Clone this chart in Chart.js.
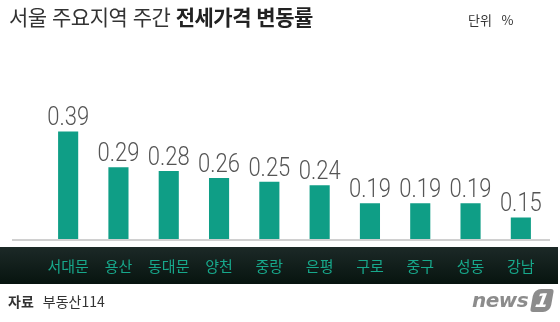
<!DOCTYPE html>
<html lang="ko">
<head>
<meta charset="utf-8">
<script src="https://cdn.jsdelivr.net/npm/chart.js@4/dist/chart.umd.min.js"></script>
<style>
  body { margin: 0; background: #fff; }
  #wrap { position: relative; width: 560px; height: 322px; overflow: hidden; font-family: "Noto Sans CJK KR", "Noto Sans", sans-serif; }
  #chart { position: absolute; left: 0; top: 0; }
  .title { position: absolute; left: 9px; top: 1px; font-size: 21px; color: #333; letter-spacing: -0.5px; }
  .title b { font-weight: 700; color: #222; }
  .unit { position: absolute; left: 468px; top: 10px; font-size: 13px; color: #333; word-spacing: 6px; }
  .source { position: absolute; left: 8px; top: 291px; font-size: 14px; color: #333; }
  .source b { font-weight: 700; margin-right: 9px; }
  .logo { position: absolute; left: 472px; top: 288px; font-family: "DejaVu Sans", sans-serif; font-size: 20px; font-weight: 700; font-style: italic; color: #8c8c8c; letter-spacing: -0.5px; }
  .logo span { display: inline-block; background: #8c8c8c; color: #fff; border-radius: 7px 3px 7px 3px; width: 20px; height: 23px; line-height: 23px; text-align: center; font-size: 19px; margin-left: 4px; transform: skewX(-10deg); }
</style>
</head>
<body>
<div id="wrap">
  <canvas id="chart" width="560" height="322"></canvas>
  <div class="title">서울 주요지역 주간 <b>전세가격 변동률</b></div>
  <div class="unit">단위 %</div>
  <div class="source"><b>자료</b>부동산114</div>
  <div class="logo">news<span>1</span></div>
</div>
<script>
var districts = ['서대문', '용산', '동대문', '양천', '중랑', '은평', '구로', '중구', '성동', '강남'];
var changeRates = [0.39, 0.29, 0.28, 0.26, 0.25, 0.24, 0.19, 0.19, 0.19, 0.15];

var bandPlugin = {
  id: 'band',
  beforeDraw: function (chart) {
    var ctx = chart.ctx;
    var g = ctx.createLinearGradient(0, 247, 0, 284);
    g.addColorStop(0, '#1c2927');
    g.addColorStop(1, '#07140f');
    ctx.save();
    ctx.fillStyle = g;
    ctx.fillRect(0, 247, 558, 37);
    ctx.strokeStyle = '#d0d0d0';
    ctx.lineWidth = 2;
    ctx.beginPath();
    ctx.moveTo(12, chart.chartArea.bottom + 1);
    ctx.lineTo(550, chart.chartArea.bottom + 1);
    ctx.stroke();
    ctx.restore();
  }
};

// value above each bar, slightly condensed like the original
var valueLabels = {
  id: 'valueLabels',
  afterDatasetsDraw: function (chart) {
    var ctx = chart.ctx;
    var meta = chart.getDatasetMeta(0);
    ctx.save();
    ctx.font = '300 25px "Roboto", sans-serif';
    ctx.fillStyle = '#555';
    ctx.textAlign = 'center';
    ctx.textBaseline = 'alphabetic';
    meta.data.forEach(function (bar, i) {
      ctx.save();
      ctx.translate(bar.x, bar.y - 6);
      ctx.scale(0.88, 1);
      ctx.fillText(changeRates[i].toFixed(2), 0, 0);
      ctx.restore();
    });
    ctx.restore();
  }
};

new Chart(document.getElementById('chart'), {
  type: 'bar',
  data: {
    labels: districts,
    datasets: [{ data: changeRates, backgroundColor: '#0f9e86', barPercentage: 0.4, categoryPercentage: 1 }]
  },
  options: {
    responsive: false,
    animation: false,
    layout: { padding: { left: 43, right: 14, top: 92, bottom: 47 } },
    plugins: { legend: { display: false }, tooltip: { enabled: false } },
    scales: {
      x: {
        grid: { display: false, drawTicks: false },
        border: { display: false },
        ticks: { color: '#17a88b', font: { family: '"Noto Sans CJK KR", sans-serif', size: 15 }, padding: 18, maxRotation: 0 },
        afterFit: function (scale) { scale.height = 36; }
      },
      y: { display: false, min: 0.09, max: 0.5 }
    }
  },
  plugins: [bandPlugin, valueLabels]
});
</script>
</body>
</html>
